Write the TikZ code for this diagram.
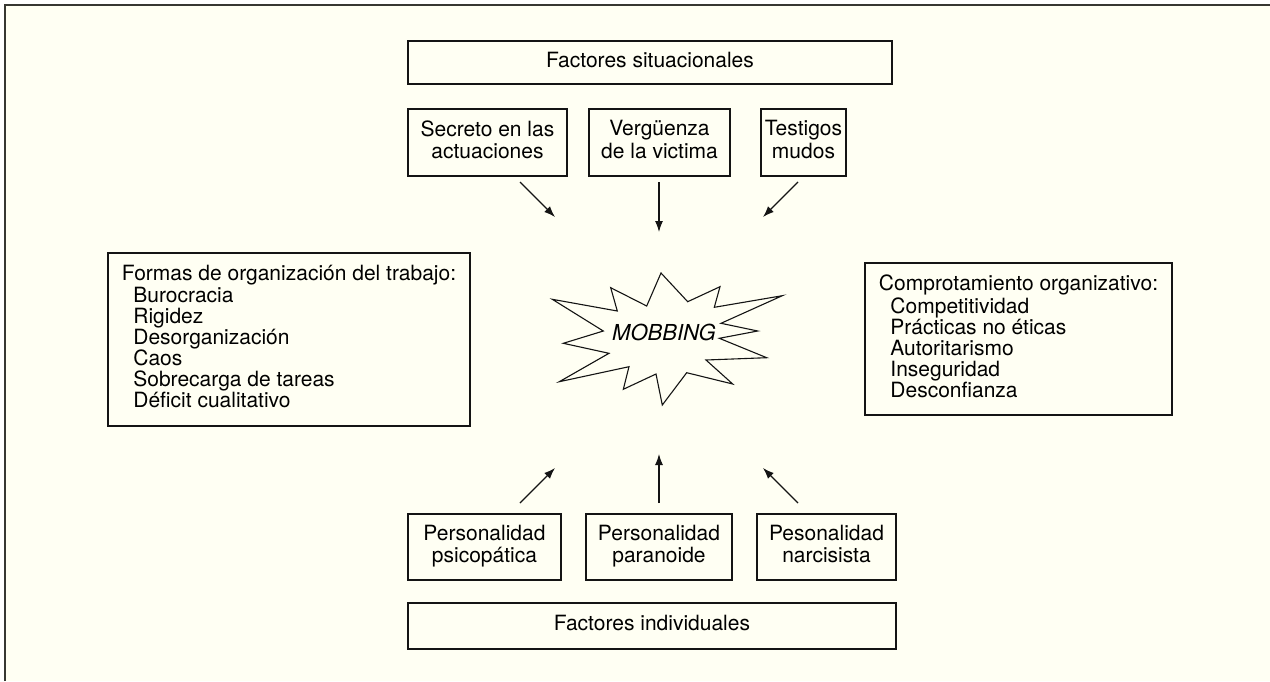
\documentclass[tikz,border=0pt]{standalone}
\usepackage{fontspec}
\setmainfont{TeX Gyre Heros}
\usetikzlibrary{arrows.meta}
\definecolor{bgcream}{RGB}{255,255,243}
\definecolor{framegray}{RGB}{55,55,50}
\definecolor{inkc}{RGB}{20,20,20}
\newcommand{\ind}{\hspace*{11.5pt}}
\begin{document}
\begin{tikzpicture}[x=1pt,y=-1pt,
  txt/.style={font=\fontsize{21}{21}\selectfont},
  box/.style={draw=inkc, line width=1.2pt, inner sep=0pt, txt, align=center},
  listbox/.style={draw=inkc, line width=1.2pt, inner sep=0pt, txt, align=left},
  arr/.style={draw=inkc, line width=1.1pt, -{Latex[length=11pt,width=8pt]}}]
\useasboundingbox (0,0) rectangle (1270,681);
\fill[white] (0,0) rectangle (1270,681);
\fill[bgcream] (5,5) rectangle (1270,681);
\draw[framegray, line width=1.5pt] (5,681) -- (5,5) -- (1270,5);

% top
\node[box, minimum width=484pt, minimum height=43pt] (sit) at (650,62.5) {Factores situacionales\strut};
\node[box, minimum width=159pt, minimum height=67pt] (sec) at (487.5,142.5) {\strut Secreto en las\\actuaciones\strut};
\node[box, minimum width=141pt, minimum height=67pt] (ver) at (659.5,142.5) {\strut Vergüenza\\de la victima\strut};
\node[box, minimum width=85pt, minimum height=67pt] (tes) at (803.5,142.5) {\strut Testigos\\mudos\strut};

% bottom
\node[box, minimum width=153pt, minimum height=66pt] (psi) at (484.5,547) {\strut Personalidad\\psicopática\strut};
\node[box, minimum width=146pt, minimum height=66pt] (par) at (659,547) {\strut Personalidad\\paranoide\strut};
\node[box, minimum width=139pt, minimum height=66pt] (nar) at (826.5,547) {\strut Pesonalidad\\narcisista\strut};
\node[box, minimum width=488pt, minimum height=46pt] (ind) at (652,626) {Factores individuales\strut};

% side boxes
\node[listbox, minimum width=362pt, minimum height=173pt] (org) at (289,339.5)
 {\strut Formas de organización del trabajo:\\
  \ind Burocracia\\
  \ind Rigidez\\
  \ind Desorganización\\
  \ind Caos\\
  \ind Sobrecarga de tareas\\
  \ind Déficit cualitativo\strut};
\node[listbox, minimum width=307pt, minimum height=152pt] (com) at (1018.5,339)
 {\strut Comprotamiento organizativo:\\
  \ind Competitividad\\
  \ind Prácticas no éticas\\
  \ind Autoritarismo\\
  \ind Inseguridad\\
  \ind Desconfianza\strut};

% star
\draw[inkc, line width=1.1pt, line join=miter, fill=bgcream]
 (661,273) -- (687.7,301.7) -- (720,286.7) -- (714.3,307.3) -- (782.3,295.7)
 -- (721,323.3) -- (757.7,331) -- (719.3,338.3) -- (766.7,357.7) -- (706,360)
 -- (732.7,384) -- (686.7,372.7) -- (662.3,405) -- (656,374) -- (623.3,389.3)
 -- (629,366.7) -- (559.3,381.7) -- (609,353.3) -- (563.3,343.3) -- (603.3,331)
 -- (552.3,299.3) -- (617.3,311) -- (610.7,287.7) -- (646.7,306) -- cycle;
\node[inner sep=0pt, font=\fontsize{22}{22}\selectfont\itshape] (mob) at (664,332) {MOBBING};

% arrow endpoints
\coordinate (a1s) at (520,182); \coordinate (a1e) at (555,217);
\coordinate (a2s) at (659,182); \coordinate (a2e) at (659,232);
\coordinate (a3s) at (798,182); \coordinate (a3e) at (763,217);
\coordinate (b1s) at (520,503); \coordinate (b1e) at (555,468);
\coordinate (b2s) at (659,503); \coordinate (b2e) at (659,454);
\coordinate (b3s) at (798,503); \coordinate (b3e) at (763,468);
\draw[arr] (a1s) -- (a1e);
\draw[arr] (a2s) -- (a2e);
\draw[arr] (a3s) -- (a3e);
\draw[arr] (b1s) -- (b1e);
\draw[arr] (b2s) -- (b2e);
\draw[arr] (b3s) -- (b3e);
\end{tikzpicture}
\end{document}
